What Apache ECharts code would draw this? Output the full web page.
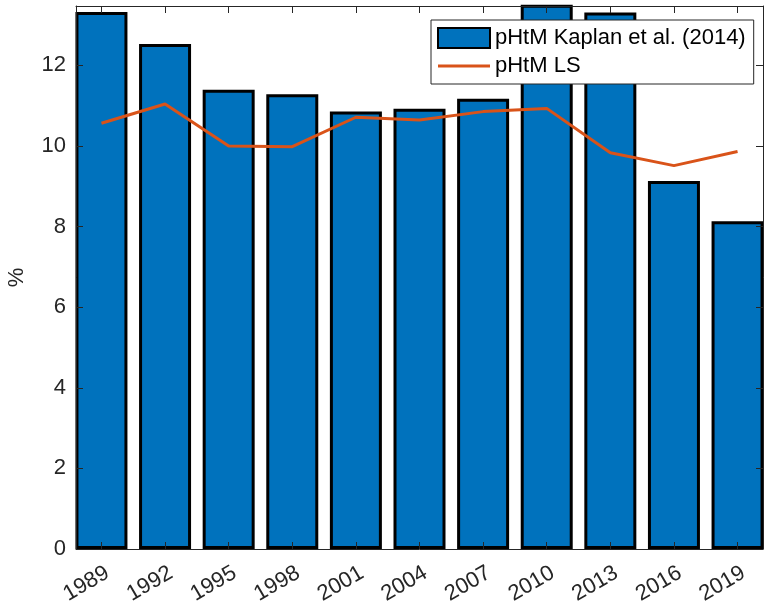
<!DOCTYPE html>
<html>
<head>
<meta charset="utf-8">
<script src="https://cdn.jsdelivr.net/npm/echarts@6/dist/echarts.min.js"></script>
<style>
html, body { margin: 0; padding: 0; background: #fff; }
#chart { width: 768px; height: 608px; }
</style>
</head>
<body>
<div id="chart"></div>
<script>
const years = [1989, 1992, 1995, 1998, 2001, 2004, 2007, 2010, 2013, 2016, 2019];
const kaplan = [13.32, 12.53, 11.39, 11.28, 10.85, 10.92, 11.17, 13.5, 13.31, 9.13, 8.13];
const ls = [10.56, 11.04, 10.0, 9.98, 10.71, 10.64, 10.85, 10.93, 9.83, 9.51, 9.86];
const yTicks = [0, 2, 4, 6, 8, 10, 12];

const chart = echarts.init(document.getElementById("chart"));
const axisCol = "#262626";
const font = "Liberation Sans, Arial, Helvetica, sans-serif";

const xBase = {
	type: "value",
	min: 1987.8,
	max: 2020.2,
	splitLine: { show: false },
	axisLine: { onZero: false, lineStyle: { color: axisCol, width: 1 } },
	axisTick: { inside: true, length: 7, customValues: years, lineStyle: { color: axisCol } },
	z: 10
};
const yBase = {
	type: "value",
	min: 0,
	max: 13.47,
	interval: 2,
	splitLine: { show: false },
	axisLine: { show: true, lineStyle: { color: axisCol, width: 1 } },
	axisTick: { inside: true, length: 7, customValues: yTicks, lineStyle: { color: axisCol } },
	z: 10
};

const option = {
	animation: false,
	backgroundColor: "#fff",
	textStyle: { fontFamily: font },
	grid: { left: 76, right: 5, top: 6, bottom: 59, containLabel: false, outerBoundsMode: "none" },
	legend: {
		orient: "vertical",
		left: 431,
		top: 20,
		padding: [7, 8, 7, 6],
		itemGap: 6,
		itemWidth: 52,
		itemHeight: 20,
		borderColor: axisCol,
		borderWidth: 1,
		borderRadius: 0,
		backgroundColor: "#fff",
		textStyle: { fontSize: 22, color: "#000", fontFamily: font, lineHeight: 22 },
		data: [
			{ name: "pHtM Kaplan et al. (2014)", icon: "rect" },
			{
				name: "pHtM LS",
				icon: "path://M0,0 L52,0 L52,3 L0,3 Z",
				itemStyle: { color: "#D95319", borderWidth: 0 }
			}
		]
	},
	xAxis: [
		Object.assign({}, xBase, {
			position: "bottom",
			axisLabel: {
				customValues: years,
				formatter: v => String(v),
				rotate: 30,
				fontSize: 22,
				color: axisCol,
				fontFamily: font,
				margin: 26,
				padding: [0, -7, 0, 0]
			}
		}),
		Object.assign({}, xBase, { position: "top", axisLabel: { show: false } })
	],
	yAxis: [
		Object.assign({}, yBase, {
			position: "left",
			name: "%",
			nameLocation: "middle",
			nameGap: 48,
			nameRotate: 90,
			nameTextStyle: { fontSize: 22, color: axisCol, fontFamily: font },
			axisLabel: { customValues: yTicks, fontSize: 22, color: axisCol, fontFamily: font, margin: 10 }
		}),
		Object.assign({}, yBase, { position: "right", axisLabel: { show: false } })
	],
	series: [
		{
			name: "pHtM Kaplan et al. (2014)",
			type: "bar",
			barWidth: 52,
			data: years.map((y, i) => [y, kaplan[i]]),
			itemStyle: { color: "#0072BD", borderColor: "#000", borderWidth: 3 }
		},
		{
			name: "pHtM LS",
			type: "line",
			symbol: "none",
			data: years.map((y, i) => [y, ls[i]]),
			lineStyle: { color: "#D95319", width: 3 },
			itemStyle: { color: "#D95319" },
			z: 5
		}
	]
};

chart.setOption(option);
window.onresize = chart.resize;
</script>
</body>
</html>
